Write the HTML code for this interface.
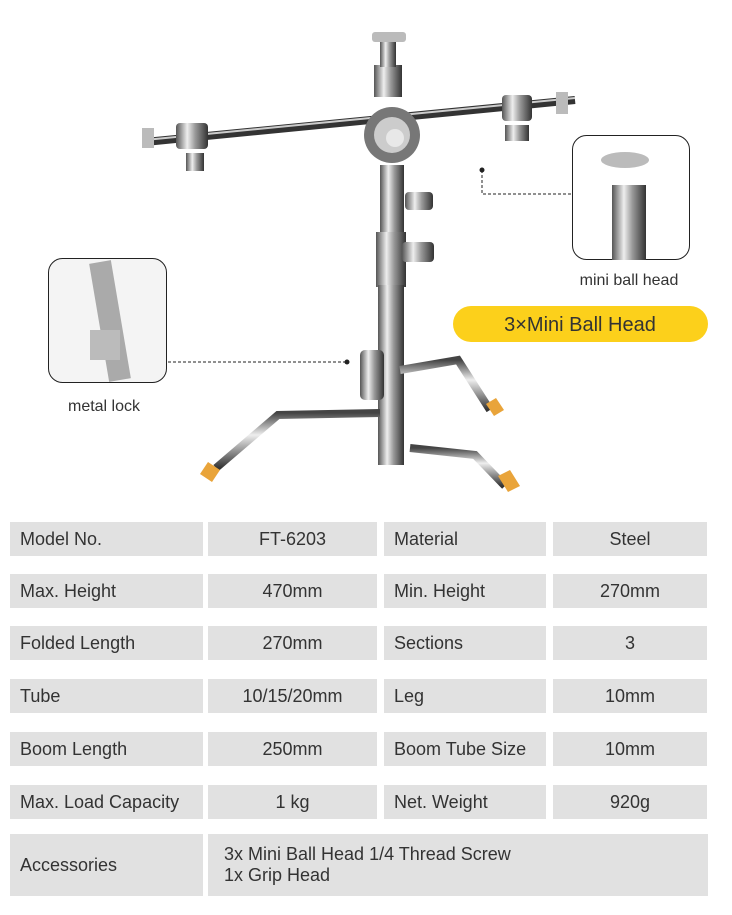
<!DOCTYPE html>
<html><head><meta charset="utf-8"><style>
body{margin:0;width:732px;height:915px;background:#fff;position:relative;overflow:hidden;font-family:"Liberation Sans",sans-serif;}
.c{position:absolute;background:#e1e1e1;color:#333;font-size:18px;display:flex;align-items:center;box-sizing:border-box;}
.l{padding-left:10px;}
.m{justify-content:center;}
</style></head><body>
<svg width="732" height="510" style="position:absolute;left:0;top:0">
<defs>
<linearGradient id="ch" x1="0" x2="1" y1="0" y2="0"><stop offset="0" stop-color="#555"/><stop offset=".35" stop-color="#eee"/><stop offset=".6" stop-color="#999"/><stop offset="1" stop-color="#333"/></linearGradient>
<linearGradient id="chv" x1="0" x2="0" y1="0" y2="1"><stop offset="0" stop-color="#444"/><stop offset=".4" stop-color="#eee"/><stop offset="1" stop-color="#333"/></linearGradient>
</defs>
<!-- boom -->
<path d="M145,142 L575,100" stroke="#333" stroke-width="8"/>
<path d="M145,140 L575,98" stroke="#ccc" stroke-width="2"/>
<rect x="176" y="123" width="32" height="26" rx="4" fill="url(#ch)"/>
<rect x="186" y="153" width="18" height="18" fill="url(#ch)"/>
<rect x="142" y="128" width="12" height="20" fill="#bbb"/>
<rect x="502" y="95" width="30" height="26" rx="4" fill="url(#ch)"/>
<rect x="505" y="125" width="24" height="16" fill="url(#ch)"/>
<rect x="556" y="92" width="12" height="22" fill="#bbb"/>
<!-- top ball head -->
<rect x="372" y="32" width="34" height="10" rx="3" fill="#bbb"/>
<rect x="374" y="65" width="28" height="32" fill="url(#ch)"/>
<rect x="380" y="42" width="16" height="25" fill="url(#ch)"/>
<circle cx="392" cy="135" r="28" fill="#777"/><circle cx="392" cy="135" r="18" fill="#ccc"/><circle cx="395" cy="138" r="9" fill="#e8e8e8"/>
<!-- column -->
<rect x="380" y="165" width="24" height="70" fill="url(#ch)"/>
<rect x="376" y="232" width="30" height="55" fill="url(#ch)"/>
<rect x="378" y="285" width="26" height="180" fill="url(#ch)"/>
<rect x="405" y="192" width="28" height="18" rx="4" fill="url(#ch)"/>
<rect x="402" y="242" width="32" height="20" rx="4" fill="url(#ch)"/>
<!-- legs -->
<path d="M400,370 L458,360 L490,410" stroke="url(#chv)" stroke-width="8" fill="none"/>
<path d="M380,413 L278,415 L216,468" stroke="url(#chv)" stroke-width="8" fill="none"/>
<path d="M410,448 L475,455 L505,486" stroke="url(#chv)" stroke-width="8" fill="none"/>
<rect x="360" y="350" width="24" height="50" rx="5" fill="url(#ch)"/>
<path d="M486,404 l10,-6 l8,12 l-10,6z" fill="#e9a43a"/>
<path d="M208,462 l12,8 l-8,12 l-12,-8z" fill="#e9a43a"/>
<path d="M498,476 l12,-6 l10,16 l-12,6z" fill="#e9a43a"/>
<!-- callouts -->
<rect x="48.5" y="258.5" width="118" height="124" rx="14" fill="#f4f4f4" stroke="#222"/>
<path d="M100,262 L120,380" stroke="#aaa" stroke-width="22"/>
<rect x="90" y="330" width="30" height="30" fill="#bbb"/>
<rect x="572.5" y="135.5" width="117" height="124" rx="14" fill="#fff" stroke="#222"/>
<rect x="612" y="185" width="34" height="75" fill="url(#ch)"/>
<ellipse cx="625" cy="160" rx="24" ry="8" fill="#bbb"/>
<path d="M168,362 L347,362" stroke="#222" stroke-dasharray="3,2"/><circle cx="347" cy="362" r="2.5" fill="#222"/>
<path d="M482,170 L482,194 L572,194" stroke="#222" stroke-dasharray="3,2" fill="none"/><circle cx="482" cy="170" r="2.5" fill="#222"/>
<rect x="453" y="306" width="255" height="36" rx="18" fill="#fcd01b"/>
<text x="580" y="331" text-anchor="middle" font-family="Liberation Sans" font-size="20" fill="#333">3×Mini Ball Head</text>
<text x="104" y="411" text-anchor="middle" font-family="Liberation Sans" font-size="16" fill="#333">metal lock</text>
<text x="629" y="285" text-anchor="middle" font-family="Liberation Sans" font-size="16" fill="#333">mini ball head</text>
</svg>

<div class="c l" style="left:10px;top:522px;width:193px;height:34px">Model No.</div>
<div class="c m" style="left:208px;top:522px;width:169px;height:34px">FT-6203</div>
<div class="c l" style="left:384px;top:522px;width:162px;height:34px">Material</div>
<div class="c m" style="left:553px;top:522px;width:154px;height:34px">Steel</div>

<div class="c l" style="left:10px;top:574px;width:193px;height:34px">Max. Height</div>
<div class="c m" style="left:208px;top:574px;width:169px;height:34px">470mm</div>
<div class="c l" style="left:384px;top:574px;width:162px;height:34px">Min. Height</div>
<div class="c m" style="left:553px;top:574px;width:154px;height:34px">270mm</div>

<div class="c l" style="left:10px;top:626px;width:193px;height:34px">Folded Length</div>
<div class="c m" style="left:208px;top:626px;width:169px;height:34px">270mm</div>
<div class="c l" style="left:384px;top:626px;width:162px;height:34px">Sections</div>
<div class="c m" style="left:553px;top:626px;width:154px;height:34px">3</div>

<div class="c l" style="left:10px;top:679px;width:193px;height:34px">Tube</div>
<div class="c m" style="left:208px;top:679px;width:169px;height:34px">10/15/20mm</div>
<div class="c l" style="left:384px;top:679px;width:162px;height:34px">Leg</div>
<div class="c m" style="left:553px;top:679px;width:154px;height:34px">10mm</div>

<div class="c l" style="left:10px;top:732px;width:193px;height:34px">Boom Length</div>
<div class="c m" style="left:208px;top:732px;width:169px;height:34px">250mm</div>
<div class="c l" style="left:384px;top:732px;width:162px;height:34px">Boom Tube Size</div>
<div class="c m" style="left:553px;top:732px;width:154px;height:34px">10mm</div>

<div class="c l" style="left:10px;top:785px;width:193px;height:34px">Max. Load Capacity</div>
<div class="c m" style="left:208px;top:785px;width:169px;height:34px">1 kg</div>
<div class="c l" style="left:384px;top:785px;width:162px;height:34px">Net. Weight</div>
<div class="c m" style="left:553px;top:785px;width:154px;height:34px">920g</div>

<div class="c l" style="left:10px;top:834px;width:193px;height:62px">Accessories</div>
<div class="c" style="left:208px;top:834px;width:500px;height:62px;padding-left:16px;line-height:21px">3x Mini Ball Head 1/4 Thread Screw<br>1x Grip Head</div>
</body></html>
